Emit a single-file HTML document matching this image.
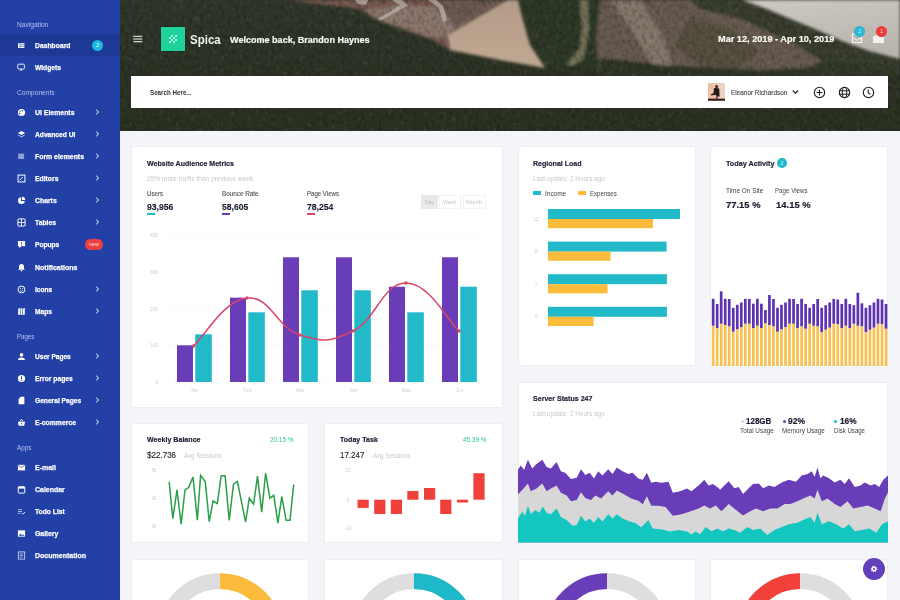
<!DOCTYPE html>
<html><head><meta charset="utf-8">
<style>
*{margin:0;padding:0;box-sizing:border-box}
html,body{width:900px;height:600px;overflow:hidden;background:#f4f5f9;font-family:"Liberation Sans",sans-serif}
.t{position:absolute;white-space:nowrap}
.abs{position:absolute}
.card{position:absolute;background:#fff;border:1px solid #eceef3}
</style></head><body>
<svg class="abs" style="left:120px;top:0" width="780" height="131" viewBox="120 0 780 131">
<defs>
<filter id="bl" x="-5%" y="-20%" width="110%" height="140%"><feGaussianBlur stdDeviation="1.5"/></filter>
<filter id="bl2"><feGaussianBlur stdDeviation="0.6"/></filter>
<filter id="tex" x="0" y="0" width="100%" height="100%"><feTurbulence type="fractalNoise" baseFrequency="0.28 0.2" numOctaves="2" seed="7"/><feGaussianBlur stdDeviation="0.5"/><feColorMatrix values="0 0 0 0 0  0 0 0 0 0  0 0 0 0 0  -2.2 0 0 0 1.25"/></filter>
<filter id="tex2" x="0" y="0" width="100%" height="100%"><feTurbulence type="fractalNoise" baseFrequency="0.25 0.18" numOctaves="2" seed="3"/><feGaussianBlur stdDeviation="0.5"/><feColorMatrix values="0 0 0 0 0.55  0 0 0 0 0.6  0 0 0 0 0.45  2.2 0 0 0 -1.3"/></filter>
<linearGradient id="for" x1="0" y1="0" x2="0" y2="1"><stop offset="0" stop-color="#30372a"/><stop offset="0.6" stop-color="#2c3224"/><stop offset="1" stop-color="#2b3122"/></linearGradient>
<linearGradient id="sky" x1="0" y1="0" x2="0.3" y2="1"><stop offset="0" stop-color="#cdc8c2"/><stop offset="1" stop-color="#b9b5ae"/></linearGradient>
<linearGradient id="sand" x1="0" y1="0" x2="0" y2="1"><stop offset="0" stop-color="#b39b89"/><stop offset="1" stop-color="#c0a891"/></linearGradient>
</defs>
<rect x="120" y="0" width="780" height="131" fill="url(#for)"/>
<g filter="url(#bl)">
<polygon points="286,0 507,0 447,35 450,50 433,40 410,32 377,20 360,9 327,5" fill="#76594f"/>
<polygon points="365,10 400,5 440,8 465,24 447,36 433,38 410,30 377,20" fill="#8a766c"/><polygon points="440,0 500,0 470,18 455,28 445,10" fill="#6a5850"/>
<polygon points="514,0 600,0 606,40 600,66 546,68 528,40 521,17" fill="#2e3827"/>
<polygon points="600,0 742,0 767,9 793,20 815,29 842,41 869,51 900,59 900,76 600,76 596,40" fill="#665a4f"/>
<polygon points="690,18 730,28 760,50 740,68 700,66 675,45" fill="#544f40"/>
<polygon points="600,58 680,66 760,70 840,66 900,70 900,76 600,76" fill="#2f3628"/>
<polygon points="612,0 640,0 662,35 672,66 652,64 630,28" fill="#84766a"/>
<polygon points="580,0 588,0 589,30 584,58 572,66 566,64 579,50 582,30" fill="#707058"/>
<polygon points="690,0 742,0 767,9 793,20 815,29 842,41 869,51 900,59 900,76 830,76 820,60 795,44 765,30 735,17 700,9" fill="#373e2d"/>
<polygon points="820,62 900,64 900,76 790,76" fill="#30372a"/>
</g>
<rect x="120" y="0" width="780" height="131" filter="url(#tex)" opacity="0.24"/>
<rect x="120" y="0" width="780" height="131" filter="url(#tex2)" opacity="0.18"/>
<g filter="url(#bl)">
<polygon points="447,35 507,0 518,0 522,17 530,45 545,68 500,60 450,50" fill="url(#sand)"/>
<polygon points="742,0 900,0 900,59 869,51 842,41 815,29 793,20 767,9" fill="url(#sky)"/>
</g>
<g filter="url(#bl2)" fill="#cfc9c4" opacity="0.55">
<polygon points="355,0 368,0 366,5 358,4"/>
<polygon points="392,0 402,0 408,5 398,11 382,20 378,19 394,9 400,5"/>
<polygon points="428,0 436,0 443,6 447,20 443,22 439,8"/>
</g>
</svg>
<div class="abs" style="left:0;top:0;width:120px;height:600px;background:#2240a6"></div>
<div class="abs" style="left:0;top:34px;width:120px;height:22px;background:#1d3895"></div>
<div class="t" style="left:17px;top:20.20px;font-size:7.4px;line-height:10px;color:#b3c0ee;font-weight:400;transform:scaleX(0.8952);transform-origin:0 50%;">Navigation</div>
<svg class="abs" style="left:16.8px;top:41.2px" width="9" height="9" viewBox="0 0 10 10"><rect x="1.2" y="2.4" width="7" height="5.4" fill="#fff"/><path d="M3.3 2.4v5.4M3.3 4.1h5M3.3 6h5" stroke="#2240a6" stroke-width="0.6"/></svg>
<div class="t" style="left:35px;top:40.60px;font-size:7.6px;line-height:10px;color:#ffffff;font-weight:700;transform:scaleX(0.8944);transform-origin:0 50%;-webkit-text-stroke:0.25px #fff;">Dashboard</div>
<svg class="abs" style="left:16.8px;top:63.2px" width="9" height="9" viewBox="0 0 10 10"><rect x="0.8" y="1.3" width="7.4" height="5.4" rx="1" fill="none" stroke="#fff" stroke-width="1"/><path d="M3 8.3l1.5-2 1.5 2z" fill="#fff"/></svg>
<div class="t" style="left:35px;top:62.60px;font-size:7.6px;line-height:10px;color:#ffffff;font-weight:700;transform:scaleX(0.8818);transform-origin:0 50%;-webkit-text-stroke:0.25px #fff;">Widgets</div>
<div class="t" style="left:17px;top:88.20px;font-size:7.4px;line-height:10px;color:#b3c0ee;font-weight:400;transform:scaleX(0.8986);transform-origin:0 50%;">Components</div>
<svg class="abs" style="left:16.8px;top:108.2px" width="9" height="9" viewBox="0 0 10 10"><circle cx="5" cy="5" r="4" fill="#fff"/><circle cx="3.5" cy="3.5" r=".8" fill="#2240a6"/><circle cx="6" cy="3" r=".8" fill="#2240a6"/><circle cx="3" cy="6" r=".8" fill="#2240a6"/></svg>
<div class="t" style="left:35px;top:107.60px;font-size:7.6px;line-height:10px;color:#ffffff;font-weight:700;transform:scaleX(0.9080);transform-origin:0 50%;-webkit-text-stroke:0.25px #fff;">UI Elements</div>
<svg class="abs" style="left:95px;top:109px" width="5" height="6" viewBox="0 0 5 6"><path d="M1.2 .8L3.6 3 1.2 5.2" fill="none" stroke="#fff" stroke-width="1"/></svg>
<svg class="abs" style="left:16.8px;top:130.2px" width="9" height="9" viewBox="0 0 10 10"><path d="M5 1l4 2.3-4 2.3-4-2.3z" fill="#fff"/><path d="M1.5 5.2L5 7.3l3.5-2.1L9 5.6 5 8 1 5.6z" fill="#fff"/></svg>
<div class="t" style="left:35px;top:129.60px;font-size:7.6px;line-height:10px;color:#ffffff;font-weight:700;transform:scaleX(0.8777);transform-origin:0 50%;-webkit-text-stroke:0.25px #fff;">Advanced UI</div>
<svg class="abs" style="left:95px;top:131px" width="5" height="6" viewBox="0 0 5 6"><path d="M1.2 .8L3.6 3 1.2 5.2" fill="none" stroke="#fff" stroke-width="1"/></svg>
<svg class="abs" style="left:16.8px;top:152.2px" width="9" height="9" viewBox="0 0 10 10"><rect x="1.3" y="1.8" width="6.6" height="6" fill="#8fa0d8"/></svg>
<div class="t" style="left:35px;top:151.60px;font-size:7.6px;line-height:10px;color:#ffffff;font-weight:700;transform:scaleX(0.9064);transform-origin:0 50%;-webkit-text-stroke:0.25px #fff;">Form elements</div>
<svg class="abs" style="left:95px;top:153px" width="5" height="6" viewBox="0 0 5 6"><path d="M1.2 .8L3.6 3 1.2 5.2" fill="none" stroke="#fff" stroke-width="1"/></svg>
<svg class="abs" style="left:16.8px;top:174.2px" width="9" height="9" viewBox="0 0 10 10"><rect x="1.2" y="1.2" width="7.6" height="7.6" fill="none" stroke="#fff" stroke-width="1.1"/><path d="M3.2 6.8l3.2-3.4" stroke="#fff" stroke-width="1"/></svg>
<div class="t" style="left:35px;top:173.60px;font-size:7.6px;line-height:10px;color:#ffffff;font-weight:700;transform:scaleX(0.8976);transform-origin:0 50%;-webkit-text-stroke:0.25px #fff;">Editors</div>
<svg class="abs" style="left:95px;top:175px" width="5" height="6" viewBox="0 0 5 6"><path d="M1.2 .8L3.6 3 1.2 5.2" fill="none" stroke="#fff" stroke-width="1"/></svg>
<svg class="abs" style="left:16.8px;top:196.2px" width="9" height="9" viewBox="0 0 10 10"><path d="M4.5 1.3A3.8 3.8 0 1 0 8.7 5.5H4.5z" fill="#fff"/><path d="M5.5 0.8V4.5h3.7A3.8 3.8 0 0 0 5.5 0.8z" fill="#fff"/></svg>
<div class="t" style="left:35px;top:195.60px;font-size:7.6px;line-height:10px;color:#ffffff;font-weight:700;transform:scaleX(0.9015);transform-origin:0 50%;-webkit-text-stroke:0.25px #fff;">Charts</div>
<svg class="abs" style="left:95px;top:197px" width="5" height="6" viewBox="0 0 5 6"><path d="M1.2 .8L3.6 3 1.2 5.2" fill="none" stroke="#fff" stroke-width="1"/></svg>
<svg class="abs" style="left:16.8px;top:218.2px" width="9" height="9" viewBox="0 0 10 10"><rect x="1" y="1" width="8" height="8" rx="1.2" fill="none" stroke="#fff" stroke-width="1.1"/><path d="M5 1v8M1 5h8" stroke="#fff" stroke-width="1"/></svg>
<div class="t" style="left:35px;top:217.60px;font-size:7.6px;line-height:10px;color:#ffffff;font-weight:700;transform:scaleX(0.8975);transform-origin:0 50%;-webkit-text-stroke:0.25px #fff;">Tables</div>
<svg class="abs" style="left:95px;top:219px" width="5" height="6" viewBox="0 0 5 6"><path d="M1.2 .8L3.6 3 1.2 5.2" fill="none" stroke="#fff" stroke-width="1"/></svg>
<svg class="abs" style="left:16.8px;top:240.2px" width="9" height="9" viewBox="0 0 10 10"><path d="M1 1h8v6H5L2.5 9V7H1z" fill="#fff"/><path d="M5 2.3v2.6M5 5.6v.8" stroke="#2240a6" stroke-width=".9"/></svg>
<div class="t" style="left:35px;top:239.60px;font-size:7.6px;line-height:10px;color:#ffffff;font-weight:700;transform:scaleX(0.8721);transform-origin:0 50%;-webkit-text-stroke:0.25px #fff;">Popups</div>
<svg class="abs" style="left:16.8px;top:263.2px" width="9" height="9" viewBox="0 0 10 10"><path d="M5 1.2c-1.8 0-2.8 1.3-2.8 3v2.3L1.2 7.6h7.6L7.8 6.5V4.2c0-1.7-1-3-2.8-3z" fill="#fff"/><circle cx="5" cy="8.6" r=".9" fill="#fff"/></svg>
<div class="t" style="left:35px;top:262.60px;font-size:7.6px;line-height:10px;color:#ffffff;font-weight:700;transform:scaleX(0.9235);transform-origin:0 50%;-webkit-text-stroke:0.25px #fff;">Notifications</div>
<svg class="abs" style="left:16.8px;top:285.2px" width="9" height="9" viewBox="0 0 10 10"><circle cx="5" cy="5" r="3.8" fill="none" stroke="#fff" stroke-width="1.1"/><circle cx="3.7" cy="4" r=".6" fill="#fff"/><circle cx="6.3" cy="4" r=".6" fill="#fff"/><path d="M3.3 6c.9 1 2.5 1 3.4 0" fill="none" stroke="#fff" stroke-width=".8"/></svg>
<div class="t" style="left:35px;top:284.60px;font-size:7.6px;line-height:10px;color:#ffffff;font-weight:700;transform:scaleX(0.8616);transform-origin:0 50%;-webkit-text-stroke:0.25px #fff;">Icons</div>
<svg class="abs" style="left:95px;top:286px" width="5" height="6" viewBox="0 0 5 6"><path d="M1.2 .8L3.6 3 1.2 5.2" fill="none" stroke="#fff" stroke-width="1"/></svg>
<svg class="abs" style="left:16.8px;top:307.2px" width="9" height="9" viewBox="0 0 10 10"><path d="M1.3 2l2.5-.8 2.4.8 2.5-.8v7l-2.5.8-2.4-.8-2.5.8z" fill="#fff"/><path d="M3.8 1.5v6.8M6.2 2v6.8" stroke="#2240a6" stroke-width=".7"/></svg>
<div class="t" style="left:35px;top:306.60px;font-size:7.6px;line-height:10px;color:#ffffff;font-weight:700;transform:scaleX(0.8700);transform-origin:0 50%;-webkit-text-stroke:0.25px #fff;">Maps</div>
<svg class="abs" style="left:95px;top:308px" width="5" height="6" viewBox="0 0 5 6"><path d="M1.2 .8L3.6 3 1.2 5.2" fill="none" stroke="#fff" stroke-width="1"/></svg>
<div class="t" style="left:17px;top:332.20px;font-size:7.4px;line-height:10px;color:#b3c0ee;font-weight:400;transform:scaleX(0.8198);transform-origin:0 50%;">Pages</div>
<svg class="abs" style="left:16.8px;top:352.2px" width="9" height="9" viewBox="0 0 10 10"><circle cx="5" cy="3.2" r="2" fill="#fff"/><path d="M1.2 8.8c0-2 1.8-2.8 3.8-2.8s3.8.8 3.8 2.8z" fill="#fff"/></svg>
<div class="t" style="left:35px;top:351.60px;font-size:7.6px;line-height:10px;color:#ffffff;font-weight:700;transform:scaleX(0.8647);transform-origin:0 50%;-webkit-text-stroke:0.25px #fff;">User Pages</div>
<svg class="abs" style="left:95px;top:353px" width="5" height="6" viewBox="0 0 5 6"><path d="M1.2 .8L3.6 3 1.2 5.2" fill="none" stroke="#fff" stroke-width="1"/></svg>
<svg class="abs" style="left:16.8px;top:374.2px" width="9" height="9" viewBox="0 0 10 10"><circle cx="5" cy="5" r="4" fill="#fff"/><path d="M5 2.6v3M5 6.6v.9" stroke="#2240a6" stroke-width="1.1"/></svg>
<div class="t" style="left:35px;top:373.60px;font-size:7.6px;line-height:10px;color:#ffffff;font-weight:700;transform:scaleX(0.8861);transform-origin:0 50%;-webkit-text-stroke:0.25px #fff;">Error pages</div>
<svg class="abs" style="left:95px;top:375px" width="5" height="6" viewBox="0 0 5 6"><path d="M1.2 .8L3.6 3 1.2 5.2" fill="none" stroke="#fff" stroke-width="1"/></svg>
<svg class="abs" style="left:16.8px;top:396.2px" width="9" height="9" viewBox="0 0 10 10"><path d="M4.2 0.8h4v8.4H1.8V3.2z" fill="#fff"/></svg>
<div class="t" style="left:35px;top:395.60px;font-size:7.6px;line-height:10px;color:#ffffff;font-weight:700;transform:scaleX(0.8749);transform-origin:0 50%;-webkit-text-stroke:0.25px #fff;">General Pages</div>
<svg class="abs" style="left:95px;top:397px" width="5" height="6" viewBox="0 0 5 6"><path d="M1.2 .8L3.6 3 1.2 5.2" fill="none" stroke="#fff" stroke-width="1"/></svg>
<svg class="abs" style="left:16.8px;top:418.2px" width="9" height="9" viewBox="0 0 10 10"><path d="M1 4.3h8l-1 4.4H2z" fill="#fff"/><path d="M3 4.3l2-3 2 3" fill="none" stroke="#fff" stroke-width=".9"/><circle cx="5" cy="6.3" r=".7" fill="#2240a6"/></svg>
<div class="t" style="left:35px;top:417.60px;font-size:7.6px;line-height:10px;color:#ffffff;font-weight:700;transform:scaleX(0.8987);transform-origin:0 50%;-webkit-text-stroke:0.25px #fff;">E-commerce</div>
<svg class="abs" style="left:95px;top:419px" width="5" height="6" viewBox="0 0 5 6"><path d="M1.2 .8L3.6 3 1.2 5.2" fill="none" stroke="#fff" stroke-width="1"/></svg>
<div class="t" style="left:17px;top:443.20px;font-size:7.4px;line-height:10px;color:#b3c0ee;font-weight:400;transform:scaleX(0.8538);transform-origin:0 50%;">Apps</div>
<svg class="abs" style="left:16.8px;top:463.2px" width="9" height="9" viewBox="0 0 10 10"><rect x="1" y="2" width="8" height="6.2" fill="#fff"/><path d="M1.3 2.6L5 5.2l3.7-2.6" fill="none" stroke="#2240a6" stroke-width=".8"/></svg>
<div class="t" style="left:35px;top:462.60px;font-size:7.6px;line-height:10px;color:#ffffff;font-weight:700;transform:scaleX(0.9208);transform-origin:0 50%;-webkit-text-stroke:0.25px #fff;">E-mail</div>
<svg class="abs" style="left:16.8px;top:485.2px" width="9" height="9" viewBox="0 0 10 10"><rect x="1.4" y="2" width="7.2" height="7" rx=".8" fill="none" stroke="#fff" stroke-width="1.1"/><rect x="1.4" y="2" width="7.2" height="2" fill="#fff"/><path d="M3.3 1v2M6.7 1v2" stroke="#fff" stroke-width=".9"/></svg>
<div class="t" style="left:35px;top:484.60px;font-size:7.6px;line-height:10px;color:#ffffff;font-weight:700;transform:scaleX(0.9163);transform-origin:0 50%;-webkit-text-stroke:0.25px #fff;">Calendar</div>
<svg class="abs" style="left:16.8px;top:507.2px" width="9" height="9" viewBox="0 0 10 10"><path d="M1 3h4.5M1 5h4.5M1 7h3" stroke="#c8d0ee" stroke-width=".9"/><path d="M5.5 6.8l1.2 1.2 2.3-2.6" fill="none" stroke="#fff" stroke-width="1"/></svg>
<div class="t" style="left:35px;top:506.60px;font-size:7.6px;line-height:10px;color:#ffffff;font-weight:700;transform:scaleX(0.8862);transform-origin:0 50%;-webkit-text-stroke:0.25px #fff;">Todo List</div>
<svg class="abs" style="left:16.8px;top:529.2px" width="9" height="9" viewBox="0 0 10 10"><rect x="1" y="1.5" width="8" height="7" fill="#fff"/><path d="M1.8 7.6l2-2.2 1.5 1.4 1.3-1 1.6 1.8z" fill="#2240a6"/></svg>
<div class="t" style="left:35px;top:528.60px;font-size:7.6px;line-height:10px;color:#ffffff;font-weight:700;transform:scaleX(0.9080);transform-origin:0 50%;-webkit-text-stroke:0.25px #fff;">Gallery</div>
<svg class="abs" style="left:16.8px;top:551.2px" width="9" height="9" viewBox="0 0 10 10"><rect x="1.5" y="1" width="7" height="8" fill="none" stroke="#c8d0ee" stroke-width="1"/><path d="M3 3.2h4M3 5h4M3 6.8h3" stroke="#c8d0ee" stroke-width=".8"/></svg>
<div class="t" style="left:35px;top:550.60px;font-size:7.6px;line-height:10px;color:#ffffff;font-weight:700;transform:scaleX(0.9221);transform-origin:0 50%;-webkit-text-stroke:0.25px #fff;">Documentation</div>
<div class="abs" style="left:92px;top:40px;width:11px;height:11px;border-radius:50%;background:#1db9dc;color:#e8f9ff;font-size:6px;line-height:11px;text-align:center">2</div>
<div class="abs" style="left:85px;top:238.7px;width:18px;height:11px;border-radius:5.5px;background:#ef4040;color:#ffd9d9;font-size:5.5px;line-height:11px;text-align:center">new</div>
<svg class="abs" style="left:133px;top:35px" width="10" height="8" viewBox="0 0 10 8"><path d="M0.3 1.3h9M0.3 4h9M0.3 6.7h9" stroke="#fbfbf6" stroke-width="1"/></svg>
<div class="abs" style="left:161px;top:27px;width:24px;height:24px;background:#1fd29b;box-shadow:0 0 1.5px rgba(0,20,10,.7)"></div>
<svg class="abs" style="left:169px;top:34.75px" width="8" height="8" viewBox="0 0 8 8"><rect x="2" y="0" width="2" height="2" fill="#9ff7e3"/><rect x="6" y="0" width="2" height="2" fill="#9ff7e3"/><rect x="0" y="2" width="2" height="2" fill="#9ff7e3"/><rect x="4" y="2" width="2" height="2" fill="#9ff7e3"/><rect x="2" y="4" width="2" height="2" fill="#9ff7e3"/><rect x="6" y="4" width="2" height="2" fill="#9ff7e3"/><rect x="0" y="6" width="2" height="2" fill="#9ff7e3"/><rect x="4" y="6" width="2" height="2" fill="#9ff7e3"/></svg>
<div class="t" style="left:190px;top:32.50px;font-size:12.4px;line-height:14px;color:#f2f2ea;font-weight:700;transform:scaleX(0.9280);transform-origin:0 50%;">Spica</div>
<div class="t" style="left:229.5px;top:33.90px;font-size:9.1px;line-height:12px;color:#fbfbf4;font-weight:700;transform:scaleX(0.9949);transform-origin:0 50%;-webkit-text-stroke:0.2px #fbfbf4;">Welcome back, Brandon Haynes</div>
<div class="t" style="left:718px;top:33.10px;font-size:9.2px;line-height:12px;color:#fbfbf4;font-weight:700;transform:scaleX(0.9977);transform-origin:0 50%;-webkit-text-stroke:0.2px #fbfbf4;">Mar 12, 2019 - Apr 10, 2019</div>
<svg class="abs" style="left:851px;top:32px" width="12" height="12" viewBox="0 0 12 12"><rect x="1.5" y="2" width="9" height="8.5" fill="none" stroke="#f4f0ec" stroke-width="1.2"/><path d="M1.5 6.5h2.5l.8 1.5h2.4l.8-1.5h2.5" fill="none" stroke="#f4f0ec" stroke-width="1"/></svg>
<svg class="abs" style="left:872px;top:33px" width="13" height="11" viewBox="0 0 13 11"><path d="M1 3.5L6.5 1 12 3.5V10H1z" fill="#f4f0ec"/></svg>
<div class="abs" style="left:854px;top:26px;width:11px;height:11px;border-radius:50%;background:#29b7d3;color:#d7f5ff;font-size:5.5px;line-height:11px;text-align:center">2</div>
<div class="abs" style="left:876px;top:26px;width:11px;height:11px;border-radius:50%;background:#ec3b3b;color:#ffd5d5;font-size:5.5px;line-height:11px;text-align:center">1</div>
<div class="abs" style="left:131px;top:76px;width:757px;height:32px;background:#fff"></div>
<div class="t" style="left:149.7px;top:88.00px;font-size:7.1px;line-height:10px;color:#303038;font-weight:700;transform:scaleX(0.8784);transform-origin:0 50%;">Search Here...</div>
<svg class="abs" style="left:708px;top:83px" width="17" height="18" viewBox="0 0 17 18">
<defs><linearGradient id="avg" x1="0" y1="0" x2="1" y2="0"><stop offset="0" stop-color="#f2bd9f"/><stop offset="1" stop-color="#e8d6cc"/></linearGradient><filter id="avb"><feGaussianBlur stdDeviation="0.35"/></filter></defs>
<rect width="17" height="17.8" fill="url(#avg)"/>
<g filter="url(#avb)">
<circle cx="8.6" cy="3.6" r="1.6" fill="#4a3430"/>
<path d="M5.8 5.3L8.6 4.9 11.2 5.4 11.6 13.4 9 13.8 7.6 11.8 3.2 12.6 2.8 11.2 5.6 10.2z" fill="#231a1c"/>
<path d="M0 15.6h17v2.2H0z" fill="#3b2420"/>
<path d="M8 13.5l1.4 0 .3 2.2h-2z" fill="#5a3a32"/>
</g>
</svg>
<div class="t" style="left:731px;top:87.70px;font-size:6.8px;line-height:10px;color:#44444e;font-weight:400;transform:scaleX(0.9428);transform-origin:0 50%;-webkit-text-stroke:0.12px #44444e;">Eleanor Richardson</div>
<svg class="abs" style="left:792px;top:89px" width="7" height="6" viewBox="0 0 7 6"><path d="M.8 1.5L3.5 4.2 6.2 1.5" fill="none" stroke="#222" stroke-width="1.1"/></svg>
<svg class="abs" style="left:813px;top:86px" width="13" height="13" viewBox="0 0 13 13"><circle cx="6.5" cy="6.5" r="5.2" fill="none" stroke="#1c1c22" stroke-width="1.1"/><path d="M6.5 3.7v5.6M3.7 6.5h5.6" stroke="#1c1c22" stroke-width="1.1"/></svg>
<svg class="abs" style="left:838px;top:86px" width="13" height="13" viewBox="0 0 13 13"><circle cx="6.5" cy="6.5" r="5.2" fill="none" stroke="#1c1c22" stroke-width="1.1"/><ellipse cx="6.5" cy="6.5" rx="2.2" ry="5.2" fill="none" stroke="#1c1c22" stroke-width="1"/><path d="M1.5 4.8h10M1.5 8.2h10" stroke="#1c1c22" stroke-width="1"/></svg>
<svg class="abs" style="left:862px;top:86px" width="13" height="13" viewBox="0 0 13 13"><circle cx="6.5" cy="6.5" r="5.2" fill="none" stroke="#1c1c22" stroke-width="1.1"/><path d="M6.2 3.6v3.2l2.3 1.6" fill="none" stroke="#1c1c22" stroke-width="1.1"/></svg>
<div class="card" style="left:131px;top:146px;width:372px;height:261.5px"></div>
<div class="card" style="left:517.5px;top:146px;width:178.0px;height:220.3px"></div>
<div class="card" style="left:710.3px;top:146px;width:178.0px;height:220.3px"></div>
<div class="card" style="left:517.5px;top:382px;width:370.79999999999995px;height:161px"></div>
<div class="card" style="left:131px;top:423px;width:178px;height:120.29999999999995px"></div>
<div class="card" style="left:324px;top:423px;width:179px;height:120.29999999999995px"></div>
<div class="card" style="left:131px;top:558.5px;width:178px;height:51.5px"></div>
<div class="card" style="left:324px;top:558.5px;width:178.5px;height:51.5px"></div>
<div class="card" style="left:517.5px;top:558.5px;width:178.0px;height:51.5px"></div>
<div class="card" style="left:710.3px;top:558.5px;width:178.0px;height:51.5px"></div>
<div class="t" style="left:147.1px;top:158.50px;font-size:8.1px;line-height:10px;color:#24243a;font-weight:700;transform:scaleX(0.8707);transform-origin:0 50%;-webkit-text-stroke:0.2px #24243a;">Website Audience Metrics</div>
<div class="t" style="left:147px;top:174.20px;font-size:7.2px;line-height:10px;color:#c8c9cf;font-weight:400;transform:scaleX(0.9139);transform-origin:0 50%;">25% more traffic than previous week</div>
<div class="t" style="left:147px;top:188.60px;font-size:7.4px;line-height:10px;color:#4a4a55;font-weight:400;transform:scaleX(0.8384);transform-origin:0 50%;-webkit-text-stroke:0.1px #4a4a55;">Users</div>
<div class="t" style="left:147px;top:200.70px;font-size:9.8px;line-height:12px;color:#1c1c30;font-weight:700;transform:scaleX(0.8775);transform-origin:0 50%;-webkit-text-stroke:0.15px #1c1c30;">93,956</div>
<div class="abs" style="left:147px;top:213px;width:8px;height:2px;background:#1fc0c8"></div>
<div class="t" style="left:222px;top:188.60px;font-size:7.4px;line-height:10px;color:#4a4a55;font-weight:400;transform:scaleX(0.8555);transform-origin:0 50%;-webkit-text-stroke:0.1px #4a4a55;">Bounce Rate</div>
<div class="t" style="left:222px;top:200.70px;font-size:9.8px;line-height:12px;color:#1c1c30;font-weight:700;transform:scaleX(0.8775);transform-origin:0 50%;-webkit-text-stroke:0.15px #1c1c30;">58,605</div>
<div class="abs" style="left:222px;top:213px;width:8px;height:2px;background:#6a3cb5"></div>
<div class="t" style="left:307px;top:188.60px;font-size:7.4px;line-height:10px;color:#4a4a55;font-weight:400;transform:scaleX(0.8217);transform-origin:0 50%;-webkit-text-stroke:0.1px #4a4a55;">Page Views</div>
<div class="t" style="left:307px;top:200.70px;font-size:9.8px;line-height:12px;color:#1c1c30;font-weight:700;transform:scaleX(0.8775);transform-origin:0 50%;-webkit-text-stroke:0.15px #1c1c30;">78,254</div>
<div class="abs" style="left:307px;top:213px;width:8px;height:2px;background:#e24463"></div>
<div class="abs" style="left:421px;top:195px;width:16.5px;height:14px;background:#e9e9eb"></div>
<div class="abs" style="left:439px;top:195px;width:21.5px;height:14px;border:1px solid #f3f3f5"></div>
<div class="abs" style="left:462.5px;top:195px;width:23.5px;height:14px;border:1px solid #f3f3f5"></div>
<div class="t" style="left:424.8px;top:197.20px;font-size:6px;line-height:10px;color:#b9b9bd;font-weight:400;transform:scaleX(0.8154);transform-origin:0 50%;">Day</div>
<div class="t" style="left:443.3px;top:197.20px;font-size:6px;line-height:10px;color:#c4c4c8;font-weight:400;transform:scaleX(0.8537);transform-origin:0 50%;">Week</div>
<div class="t" style="left:465.8px;top:197.20px;font-size:6px;line-height:10px;color:#c4c4c8;font-weight:400;transform:scaleX(0.9536);transform-origin:0 50%;">Month</div>
<svg class="abs" style="left:131px;top:146px" width="371" height="261" viewBox="131 146 371 261"><line x1="163" y1="235.3" x2="485" y2="235.3" stroke="#f8f9fb" stroke-width="1"/><text x="158" y="237.3" text-anchor="end" font-size="4.8" fill="#cfd0d4" font-family="Liberation Sans">400</text><line x1="163" y1="272.0" x2="485" y2="272.0" stroke="#f8f9fb" stroke-width="1"/><text x="158" y="274.0" text-anchor="end" font-size="4.8" fill="#cfd0d4" font-family="Liberation Sans">300</text><line x1="163" y1="308.7" x2="485" y2="308.7" stroke="#f8f9fb" stroke-width="1"/><text x="158" y="310.7" text-anchor="end" font-size="4.8" fill="#cfd0d4" font-family="Liberation Sans">200</text><line x1="163" y1="345.3" x2="485" y2="345.3" stroke="#f8f9fb" stroke-width="1"/><text x="158" y="347.3" text-anchor="end" font-size="4.8" fill="#cfd0d4" font-family="Liberation Sans">100</text><line x1="163" y1="382.0" x2="485" y2="382.0" stroke="#f8f9fb" stroke-width="1"/><text x="158" y="384.0" text-anchor="end" font-size="4.8" fill="#cfd0d4" font-family="Liberation Sans">0</text><rect x="177" y="345.3" width="16" height="36.7" fill="#6a3db8"/><rect x="195.3" y="334.3" width="16.5" height="47.7" fill="#22b9c9"/><text x="194.5" y="392" text-anchor="middle" font-size="4.8" fill="#cfd0d4" font-family="Liberation Sans">Jan</text><rect x="230" y="297.7" width="16" height="84.3" fill="#6a3db8"/><rect x="248.3" y="312.3" width="16.5" height="69.7" fill="#22b9c9"/><text x="247.5" y="392" text-anchor="middle" font-size="4.8" fill="#cfd0d4" font-family="Liberation Sans">Feb</text><rect x="283" y="257.3" width="16" height="124.7" fill="#6a3db8"/><rect x="301.3" y="290.3" width="16.5" height="91.7" fill="#22b9c9"/><text x="300.5" y="392" text-anchor="middle" font-size="4.8" fill="#cfd0d4" font-family="Liberation Sans">Mar</text><rect x="336" y="257.3" width="16" height="124.7" fill="#6a3db8"/><rect x="354.3" y="290.3" width="16.5" height="91.7" fill="#22b9c9"/><text x="353.5" y="392" text-anchor="middle" font-size="4.8" fill="#cfd0d4" font-family="Liberation Sans">Apr</text><rect x="389" y="286.7" width="16" height="95.3" fill="#6a3db8"/><rect x="407.3" y="312.3" width="16.5" height="69.7" fill="#22b9c9"/><text x="406.5" y="392" text-anchor="middle" font-size="4.8" fill="#cfd0d4" font-family="Liberation Sans">May</text><rect x="442" y="257.3" width="16" height="124.7" fill="#6a3db8"/><rect x="460.3" y="286.7" width="16.5" height="95.3" fill="#22b9c9"/><text x="459.5" y="392" text-anchor="middle" font-size="4.8" fill="#cfd0d4" font-family="Liberation Sans">Jun</text><path d="M193.5,346 C205.3,335.4 223.6,300.4 247,298 C270.4,295.6 276.7,327.7 300,335 C323.3,342.3 329.7,342.4 353,331 C376.3,319.6 382.7,283.0 406,283 C429.3,283.0 447.3,320.4 459,331" fill="none" stroke="#dc4468" stroke-width="1.5"/><circle cx="193.5" cy="346" r="1.7" fill="#dc4468"/><circle cx="247" cy="298" r="1.7" fill="#dc4468"/><circle cx="300" cy="335" r="1.7" fill="#dc4468"/><circle cx="353" cy="331" r="1.7" fill="#dc4468"/><circle cx="406" cy="283" r="1.7" fill="#dc4468"/><circle cx="459" cy="331" r="1.7" fill="#dc4468"/></svg>
<div class="t" style="left:532.8px;top:158.50px;font-size:8.1px;line-height:10px;color:#24243a;font-weight:700;transform:scaleX(0.8710);transform-origin:0 50%;-webkit-text-stroke:0.2px #24243a;">Regional Load</div>
<div class="t" style="left:533px;top:173.80px;font-size:7.2px;line-height:10px;color:#c8c9cf;font-weight:400;transform:scaleX(0.8905);transform-origin:0 50%;">Last update: 2 Hours ago</div>
<div class="abs" style="left:533px;top:191px;width:8px;height:3.5px;background:#22b9c9"></div>
<div class="t" style="left:544.8px;top:189.00px;font-size:6.8px;line-height:10px;color:#44444e;font-weight:400;transform:scaleX(0.9508);transform-origin:0 50%;">Income</div>
<div class="abs" style="left:578px;top:191px;width:8px;height:3.5px;background:#fbbb3b"></div>
<div class="t" style="left:589.8px;top:189.00px;font-size:6.8px;line-height:10px;color:#44444e;font-weight:400;transform:scaleX(0.8975);transform-origin:0 50%;">Expenses</div>
<svg class="abs" style="left:518px;top:146px" width="177" height="220" viewBox="518 146 177 220"><rect x="548" y="209.0" width="132.0" height="10" fill="#22b9c9"/><rect x="548" y="219.0" width="105.0" height="9.2" fill="#fbbb3b"/><text x="536" y="220.5" text-anchor="middle" font-size="4.8" fill="#cfd0d4" font-family="Liberation Sans">12</text><rect x="548" y="241.6" width="118.6" height="10" fill="#22b9c9"/><rect x="548" y="251.6" width="62.5" height="9.2" fill="#fbbb3b"/><text x="536" y="253.1" text-anchor="middle" font-size="4.8" fill="#cfd0d4" font-family="Liberation Sans">8</text><rect x="548" y="274.2" width="118.9" height="10" fill="#22b9c9"/><rect x="548" y="284.2" width="59.5" height="9.2" fill="#fbbb3b"/><text x="536" y="285.7" text-anchor="middle" font-size="4.8" fill="#cfd0d4" font-family="Liberation Sans">7</text><rect x="548" y="306.8" width="118.9" height="10" fill="#22b9c9"/><rect x="548" y="316.8" width="45.6" height="9.2" fill="#fbbb3b"/><text x="536" y="318.3" text-anchor="middle" font-size="4.8" fill="#cfd0d4" font-family="Liberation Sans">6</text></svg>
<div class="t" style="left:725.8px;top:158.50px;font-size:8.1px;line-height:10px;color:#24243a;font-weight:700;transform:scaleX(0.8906);transform-origin:0 50%;-webkit-text-stroke:0.2px #24243a;">Today Activity</div>
<div class="abs" style="left:776.8px;top:158.3px;width:10px;height:10px;border-radius:50%;background:#1fb8c9;color:#dff;font-size:5.5px;line-height:10px;text-align:center">2</div>
<div class="t" style="left:725.8px;top:185.60px;font-size:7px;line-height:10px;color:#44444e;font-weight:400;transform:scaleX(0.9166);transform-origin:0 50%;">Time On Site</div>
<div class="t" style="left:775.2px;top:185.60px;font-size:7px;line-height:10px;color:#44444e;font-weight:400;transform:scaleX(0.8823);transform-origin:0 50%;">Page Views</div>
<div class="t" style="left:726px;top:199.10px;font-size:9.8px;line-height:12px;color:#1c1c30;font-weight:700;transform:scaleX(0.9594);transform-origin:0 50%;-webkit-text-stroke:0.2px #1c1c30;">77.15 %</div>
<div class="t" style="left:775.6px;top:199.10px;font-size:9.8px;line-height:12px;color:#1c1c30;font-weight:700;transform:scaleX(0.9650);transform-origin:0 50%;-webkit-text-stroke:0.2px #1c1c30;">14.15 %</div>
<svg class="abs" style="left:711px;top:146px" width="177" height="220" viewBox="711 146 177 220"><rect x="711.80" y="298.8" width="2.7" height="27.0" fill="#5d33b2"/><rect x="711.80" y="325.8" width="2.7" height="40.2" fill="#f8c152"/><rect x="715.82" y="304" width="2.7" height="24.3" fill="#5d33b2"/><rect x="715.82" y="328.3" width="2.7" height="37.7" fill="#f8c152"/><rect x="719.84" y="291.3" width="2.7" height="32.5" fill="#5d33b2"/><rect x="719.84" y="323.8" width="2.7" height="42.2" fill="#f8c152"/><rect x="723.86" y="298.8" width="2.7" height="26.2" fill="#5d33b2"/><rect x="723.86" y="325" width="2.7" height="41.0" fill="#f8c152"/><rect x="727.88" y="299" width="2.7" height="27.5" fill="#5d33b2"/><rect x="727.88" y="326.5" width="2.7" height="39.5" fill="#f8c152"/><rect x="731.90" y="307.8" width="2.7" height="24.0" fill="#5d33b2"/><rect x="731.90" y="331.8" width="2.7" height="34.2" fill="#f8c152"/><rect x="735.92" y="304.8" width="2.7" height="24.7" fill="#5d33b2"/><rect x="735.92" y="329.5" width="2.7" height="36.5" fill="#f8c152"/><rect x="739.94" y="302.5" width="2.7" height="24.8" fill="#5d33b2"/><rect x="739.94" y="327.3" width="2.7" height="38.7" fill="#f8c152"/><rect x="743.96" y="298.8" width="2.7" height="25.0" fill="#5d33b2"/><rect x="743.96" y="323.8" width="2.7" height="42.2" fill="#f8c152"/><rect x="747.98" y="299" width="2.7" height="24.8" fill="#5d33b2"/><rect x="747.98" y="323.8" width="2.7" height="42.2" fill="#f8c152"/><rect x="752.00" y="303.7" width="2.7" height="24.3" fill="#5d33b2"/><rect x="752.00" y="328" width="2.7" height="38.0" fill="#f8c152"/><rect x="756.02" y="298.8" width="2.7" height="27.0" fill="#5d33b2"/><rect x="756.02" y="325.8" width="2.7" height="40.2" fill="#f8c152"/><rect x="760.04" y="303.7" width="2.7" height="24.3" fill="#5d33b2"/><rect x="760.04" y="328" width="2.7" height="38.0" fill="#f8c152"/><rect x="764.06" y="310" width="2.7" height="13.5" fill="#5d33b2"/><rect x="764.06" y="323.5" width="2.7" height="42.5" fill="#f8c152"/><rect x="768.08" y="295" width="2.7" height="30.0" fill="#5d33b2"/><rect x="768.08" y="325" width="2.7" height="41.0" fill="#f8c152"/><rect x="772.10" y="299" width="2.7" height="27.5" fill="#5d33b2"/><rect x="772.10" y="326.5" width="2.7" height="39.5" fill="#f8c152"/><rect x="776.12" y="307.8" width="2.7" height="24.0" fill="#5d33b2"/><rect x="776.12" y="331.8" width="2.7" height="34.2" fill="#f8c152"/><rect x="780.14" y="304.8" width="2.7" height="24.7" fill="#5d33b2"/><rect x="780.14" y="329.5" width="2.7" height="36.5" fill="#f8c152"/><rect x="784.16" y="302.5" width="2.7" height="24.8" fill="#5d33b2"/><rect x="784.16" y="327.3" width="2.7" height="38.7" fill="#f8c152"/><rect x="788.18" y="298.8" width="2.7" height="25.0" fill="#5d33b2"/><rect x="788.18" y="323.8" width="2.7" height="42.2" fill="#f8c152"/><rect x="792.20" y="299" width="2.7" height="24.8" fill="#5d33b2"/><rect x="792.20" y="323.8" width="2.7" height="42.2" fill="#f8c152"/><rect x="796.22" y="304" width="2.7" height="24.3" fill="#5d33b2"/><rect x="796.22" y="328.3" width="2.7" height="37.7" fill="#f8c152"/><rect x="800.24" y="298.8" width="2.7" height="27.7" fill="#5d33b2"/><rect x="800.24" y="326.5" width="2.7" height="39.5" fill="#f8c152"/><rect x="804.26" y="304" width="2.7" height="24.8" fill="#5d33b2"/><rect x="804.26" y="328.8" width="2.7" height="37.2" fill="#f8c152"/><rect x="808.28" y="307.8" width="2.7" height="16.0" fill="#5d33b2"/><rect x="808.28" y="323.8" width="2.7" height="42.2" fill="#f8c152"/><rect x="812.30" y="304" width="2.7" height="21.8" fill="#5d33b2"/><rect x="812.30" y="325.8" width="2.7" height="40.2" fill="#f8c152"/><rect x="816.32" y="299" width="2.7" height="27.5" fill="#5d33b2"/><rect x="816.32" y="326.5" width="2.7" height="39.5" fill="#f8c152"/><rect x="820.34" y="307.8" width="2.7" height="24.5" fill="#5d33b2"/><rect x="820.34" y="332.3" width="2.7" height="33.7" fill="#f8c152"/><rect x="824.36" y="305.2" width="2.7" height="24.6" fill="#5d33b2"/><rect x="824.36" y="329.8" width="2.7" height="36.2" fill="#f8c152"/><rect x="828.38" y="302.5" width="2.7" height="25.2" fill="#5d33b2"/><rect x="828.38" y="327.7" width="2.7" height="38.3" fill="#f8c152"/><rect x="832.40" y="298.8" width="2.7" height="25.0" fill="#5d33b2"/><rect x="832.40" y="323.8" width="2.7" height="42.2" fill="#f8c152"/><rect x="836.42" y="299.5" width="2.7" height="24.8" fill="#5d33b2"/><rect x="836.42" y="324.3" width="2.7" height="41.7" fill="#f8c152"/><rect x="840.44" y="304" width="2.7" height="24.3" fill="#5d33b2"/><rect x="840.44" y="328.3" width="2.7" height="37.7" fill="#f8c152"/><rect x="844.46" y="298.8" width="2.7" height="27.0" fill="#5d33b2"/><rect x="844.46" y="325.8" width="2.7" height="40.2" fill="#f8c152"/><rect x="848.48" y="304" width="2.7" height="24.3" fill="#5d33b2"/><rect x="848.48" y="328.3" width="2.7" height="37.7" fill="#f8c152"/><rect x="852.50" y="305.2" width="2.7" height="18.6" fill="#5d33b2"/><rect x="852.50" y="323.8" width="2.7" height="42.2" fill="#f8c152"/><rect x="856.52" y="292.8" width="2.7" height="33.0" fill="#5d33b2"/><rect x="856.52" y="325.8" width="2.7" height="40.2" fill="#f8c152"/><rect x="860.54" y="303.3" width="2.7" height="23.2" fill="#5d33b2"/><rect x="860.54" y="326.5" width="2.7" height="39.5" fill="#f8c152"/><rect x="864.56" y="307.8" width="2.7" height="24.5" fill="#5d33b2"/><rect x="864.56" y="332.3" width="2.7" height="33.7" fill="#f8c152"/><rect x="868.58" y="305.2" width="2.7" height="24.6" fill="#5d33b2"/><rect x="868.58" y="329.8" width="2.7" height="36.2" fill="#f8c152"/><rect x="872.60" y="302.5" width="2.7" height="25.2" fill="#5d33b2"/><rect x="872.60" y="327.7" width="2.7" height="38.3" fill="#f8c152"/><rect x="876.62" y="298.8" width="2.7" height="25.0" fill="#5d33b2"/><rect x="876.62" y="323.8" width="2.7" height="42.2" fill="#f8c152"/><rect x="880.64" y="299.5" width="2.7" height="24.8" fill="#5d33b2"/><rect x="880.64" y="324.3" width="2.7" height="41.7" fill="#f8c152"/><rect x="884.66" y="304" width="2.7" height="24.8" fill="#5d33b2"/><rect x="884.66" y="328.8" width="2.7" height="37.2" fill="#f8c152"/></svg>
<div class="t" style="left:533px;top:394.30px;font-size:8.1px;line-height:10px;color:#24243a;font-weight:700;transform:scaleX(0.8752);transform-origin:0 50%;-webkit-text-stroke:0.2px #24243a;">Server Status 247</div>
<div class="t" style="left:533px;top:409.20px;font-size:7.2px;line-height:10px;color:#c8c9cf;font-weight:400;transform:scaleX(0.8881);transform-origin:0 50%;">Last update: 2 Hours ago</div>
<div class="abs" style="left:741px;top:420px;width:3px;height:3px;border-radius:50%;background:#d4d4d4"></div>
<div class="t" style="left:746.4px;top:415.30px;font-size:9px;line-height:12px;color:#1c1c30;font-weight:700;transform:scaleX(0.8873);transform-origin:0 50%;-webkit-text-stroke:0.2px #1c1c30;">128GB</div>
<div class="t" style="left:740.1px;top:426.20px;font-size:6.8px;line-height:10px;color:#44444e;font-weight:400;transform:scaleX(0.9441);transform-origin:0 50%;">Total Usage</div>
<div class="abs" style="left:782.5px;top:420px;width:3px;height:3px;border-radius:50%;background:#6a3db8"></div>
<div class="t" style="left:788px;top:415.30px;font-size:9px;line-height:12px;color:#1c1c30;font-weight:700;transform:scaleX(0.9438);transform-origin:0 50%;-webkit-text-stroke:0.2px #1c1c30;">92%</div>
<div class="t" style="left:782.3px;top:426.20px;font-size:6.8px;line-height:10px;color:#44444e;font-weight:400;transform:scaleX(0.9306);transform-origin:0 50%;">Memory Usage</div>
<div class="abs" style="left:833.5px;top:420px;width:3px;height:3px;border-radius:50%;background:#13c4b8"></div>
<div class="t" style="left:839.6px;top:415.30px;font-size:9px;line-height:12px;color:#1c1c30;font-weight:700;transform:scaleX(0.9216);transform-origin:0 50%;-webkit-text-stroke:0.2px #1c1c30;">16%</div>
<div class="t" style="left:833.8px;top:426.20px;font-size:6.8px;line-height:10px;color:#44444e;font-weight:400;transform:scaleX(0.8917);transform-origin:0 50%;">Disk Usage</div>
<svg class="abs" style="left:518px;top:382px" width="370" height="161" viewBox="518 382 370 161"><path d="M518,542.5 L518,469.8 L520.7,465.5 L524.2,469.8 L527.9,459.8 L532.2,468.4 L536.5,464 L542.3,459.8 L546.6,466.9 L550.9,468.4 L556.6,462 L560.9,471.2 L565.2,472.7 L571,479 L576.7,477.8 L581,469.2 L585.3,475 L589.6,472.7 L594,478.4 L598.2,471.2 L602.5,475.5 L608.2,469.2 L612.5,474.1 L616.8,467.5 L622.6,471.2 L628.3,474.1 L632.6,472.7 L638.4,478.4 L642.7,479.8 L646.9,472.7 L651.3,482.7 L655.6,481.8 L661.3,482.7 L668.5,481.8 L672.8,492.7 L680,491.3 L687,488.4 L691.4,491.3 L698.6,485.6 L704.3,479.8 L708.6,485.5 L712.9,484 L717.2,486.9 L720.1,489.8 L724.4,485.5 L728.7,481.2 L734.4,488.3 L738.7,486.9 L743,494.1 L748.7,488.3 L753,484 L758.8,483.5 L763.1,488.3 L768.8,485.5 L774.5,486.9 L781.7,482.6 L788.8,479.8 L796,481.8 L801.7,475.5 L807.5,474 L811.8,471.2 L814.6,476.9 L817.5,467.4 L820.4,478.3 L823.2,475.5 L829,478.3 L834.7,482.6 L840.4,479.8 L844.7,484 L849,478.3 L854.8,486.9 L860.5,485.5 L864.8,482.6 L870.5,485.5 L874.8,484 L879.1,486.9 L883.4,479.8 L888,475.5 L888,542.5 Z" fill="#6a3db8"/><path d="M518,542.5 L518,494.2 L522.2,489.9 L527.9,483.6 L530.8,491.3 L536.5,488.4 L542.3,483.6 L546.6,491.3 L550.9,488.4 L556.6,485.6 L560.9,492.7 L566.6,495.6 L571,501.3 L576.7,499.9 L581,492.2 L585.3,497.9 L591,499.9 L595.3,495.6 L601.1,498.5 L608.2,491.3 L612.5,495.6 L616.8,490.5 L624,494.2 L631.2,498.5 L638.4,500.8 L642.7,504.2 L646.9,496.2 L651.3,505.7 L658.4,505.7 L665.6,507.1 L672.8,515.7 L681.4,514.3 L690,511.4 L698.6,508.5 L704.3,505.5 L710,508.4 L715.8,505.5 L721.5,511.3 L728.7,504.1 L735.8,509.8 L743,515.6 L750.2,511.3 L755.9,508.4 L763.1,511.3 L770.2,508.4 L777.4,508.4 L784.6,504.1 L790.3,504.1 L797.4,501.2 L803.2,498.4 L810.3,495.5 L814.6,498.4 L817.5,489.8 L821.8,501.2 L827.5,498.4 L834.7,504.1 L840.4,507 L847.6,501.2 L853.3,508.4 L860.5,507 L867.7,505.5 L874.8,508.4 L880.6,511.3 L884.9,498.4 L888,492.6 L888,542.5 Z" fill="#d7d7d7"/><path d="M518,542.5 L518,518.6 L522.2,511.4 L525,515.7 L527.9,505.7 L530.8,514.3 L535.1,510 L539.4,512.8 L542.8,506.5 L546.6,512.8 L550.9,514.3 L556.6,508.5 L560.9,517.1 L566.6,520 L572.4,525.7 L576.7,524.9 L581,515.7 L585.3,521.4 L589.6,518.6 L594,522.9 L598.2,517.1 L602.5,521.4 L608.2,514.3 L612.5,518.6 L616.8,514.3 L622.6,518.6 L629.7,521.4 L635.5,522.9 L641.2,527.2 L648.4,520 L652.7,528.6 L661.3,529.2 L669.9,531.5 L678.5,530 L687.1,531.5 L691.4,534.3 L695.7,531.5 L700,534.3 L705.7,527 L711.5,531.3 L717.2,528.5 L722.9,531.3 L728.7,528.5 L734.4,529.9 L740.1,532.8 L747.3,527 L753,529.9 L760.2,528.5 L767.4,535.1 L774.5,529.9 L781.7,527 L788.8,524.2 L797.4,522.7 L803.2,519.9 L810.3,517 L814.6,522.7 L817.5,512.7 L821.8,524.2 L829,521.3 L836.1,524.2 L843.3,528.5 L849,524.2 L854.8,531.3 L861.9,529.9 L869.1,528.5 L876.3,532.8 L882,524.2 L888,521.3 L888,542.5 Z" fill="#13c6c0"/></svg>
<div class="t" style="left:147px;top:435.20px;font-size:8.1px;line-height:10px;color:#24243a;font-weight:700;transform:scaleX(0.8775);transform-origin:0 50%;-webkit-text-stroke:0.2px #24243a;">Weekly Balance</div>
<div class="t" style="left:270.3px;top:435.20px;font-size:7px;line-height:10px;color:#2fc39b;font-weight:400;transform:scaleX(0.9111);transform-origin:0 50%;">20.15 %</div>
<div class="t" style="left:147px;top:449.00px;font-size:8.8px;line-height:12px;color:#2a2a36;font-weight:400;transform:scaleX(0.9149);transform-origin:0 50%;-webkit-text-stroke:0.15px #2a2a36;">$22.736</div>
<div class="t" style="left:183.9px;top:450.50px;font-size:7.2px;line-height:10px;color:#c8c9cf;font-weight:400;transform:scaleX(0.8577);transform-origin:0 50%;">Avg Sessions</div>
<svg class="abs" style="left:131px;top:423px" width="178" height="120" viewBox="131 423 178 120"><text x="154" y="471.8" text-anchor="middle" font-size="4.8" fill="#cfd0d4" font-family="Liberation Sans">5k</text><text x="154" y="500.0" text-anchor="middle" font-size="4.8" fill="#cfd0d4" font-family="Liberation Sans">2k</text><text x="154" y="527.6999999999999" text-anchor="middle" font-size="4.8" fill="#cfd0d4" font-family="Liberation Sans">0k</text><polyline points="169.2,481.9 172.8,518.7 177,489.9 181.1,524.2 185,490.1 188.7,487.3 193,477.1 197.3,520.3 200.6,475.4 205.3,481.9 209.2,521.6 213.1,501 217.3,503.6 221.2,475.8 225.1,475.8 229.2,520.3 233.5,484.1 237.4,481.5 245.6,522 249.3,498.2 253.6,504 257.5,476.1 261.7,512.2 265.6,473.2 269.9,498.2 273.8,495.3 277.9,523.1 281.8,496.6 286.1,520.3 290,520.3 293.7,484.5" fill="none" stroke="#2a9f4a" stroke-width="1.5" stroke-linejoin="miter"/></svg>
<div class="t" style="left:340.1px;top:435.20px;font-size:8.1px;line-height:10px;color:#24243a;font-weight:700;transform:scaleX(0.8741);transform-origin:0 50%;-webkit-text-stroke:0.2px #24243a;">Today Task</div>
<div class="t" style="left:463.4px;top:435.20px;font-size:7px;line-height:10px;color:#2fc39b;font-weight:400;transform:scaleX(0.9111);transform-origin:0 50%;">45.39 %</div>
<div class="t" style="left:340px;top:449.00px;font-size:8.8px;line-height:12px;color:#2a2a36;font-weight:400;transform:scaleX(0.9066);transform-origin:0 50%;-webkit-text-stroke:0.15px #2a2a36;">17.247</div>
<div class="t" style="left:372.6px;top:450.50px;font-size:7.2px;line-height:10px;color:#c8c9cf;font-weight:400;transform:scaleX(0.8600);transform-origin:0 50%;">Avg Sessions</div>
<svg class="abs" style="left:324px;top:423px" width="178" height="120" viewBox="324 423 178 120"><text x="348" y="471.8" text-anchor="middle" font-size="4.8" fill="#cfd0d4" font-family="Liberation Sans">10</text><text x="348" y="501.7" text-anchor="middle" font-size="4.8" fill="#cfd0d4" font-family="Liberation Sans">0</text><text x="348" y="530.3" text-anchor="middle" font-size="4.8" fill="#cfd0d4" font-family="Liberation Sans">-10</text><rect x="357.5" y="499.7" width="11.2" height="8.2" fill="#f0403a"/><rect x="374.2" y="499.7" width="11.2" height="14.3" fill="#f0403a"/><rect x="390.8" y="499.7" width="11.2" height="14.3" fill="#f0403a"/><rect x="407.3" y="491" width="11.2" height="8.7" fill="#f0403a"/><rect x="424" y="488" width="11.2" height="11.7" fill="#f0403a"/><rect x="440.2" y="499.7" width="11.2" height="14.3" fill="#f0403a"/><rect x="456.9" y="499.7" width="11.2" height="2.8" fill="#f0403a"/><rect x="473.4" y="473.2" width="11.2" height="26.5" fill="#f0403a"/></svg>
<svg class="abs" style="left:150.1px;top:558px" width="140" height="42" viewBox="150.1 558 140 42"><circle cx="220.1" cy="636.7" r="55.599999999999994" fill="none" stroke="#dedede" stroke-width="15.600000000000001"/><path d="M220.1,581.1 A55.599999999999994,55.599999999999994 0 0 1 275.7,636.7" fill="none" stroke="#fbbb3b" stroke-width="15.600000000000001"/></svg>
<svg class="abs" style="left:343.5px;top:558px" width="140" height="42" viewBox="343.5 558 140 42"><circle cx="413.5" cy="636.7" r="55.599999999999994" fill="none" stroke="#dedede" stroke-width="15.600000000000001"/><path d="M413.5,581.1 A55.599999999999994,55.599999999999994 0 0 1 469.1,636.7" fill="none" stroke="#1fb8c9" stroke-width="15.600000000000001"/></svg>
<svg class="abs" style="left:536.5px;top:558px" width="140" height="42" viewBox="536.5 558 140 42"><circle cx="606.5" cy="636.7" r="55.599999999999994" fill="none" stroke="#dedede" stroke-width="15.600000000000001"/><path d="M606.5,581.1 A55.599999999999994,55.599999999999994 0 0 0 550.9,636.7" fill="none" stroke="#6a3db8" stroke-width="15.600000000000001"/></svg>
<svg class="abs" style="left:729.5px;top:558px" width="140" height="42" viewBox="729.5 558 140 42"><circle cx="799.5" cy="636.7" r="55.599999999999994" fill="none" stroke="#dedede" stroke-width="15.600000000000001"/><path d="M799.5,581.1 A55.599999999999994,55.599999999999994 0 0 0 743.9,636.7" fill="none" stroke="#f2403a" stroke-width="15.600000000000001"/></svg>
<div class="abs" style="left:862.75px;top:557.5px;width:22px;height:22px;border-radius:50%;background:#6240bc"></div>
<svg class="abs" style="left:869.75px;top:564.5px" width="8" height="8" viewBox="0 0 8 8"><circle cx="4" cy="4" r="2.5" fill="none" stroke="#fff" stroke-width="1.5" stroke-dasharray="1.1 0.86"/><circle cx="4" cy="4" r="1.7" fill="none" stroke="#fff" stroke-width="1.2"/></svg>
</body></html>
